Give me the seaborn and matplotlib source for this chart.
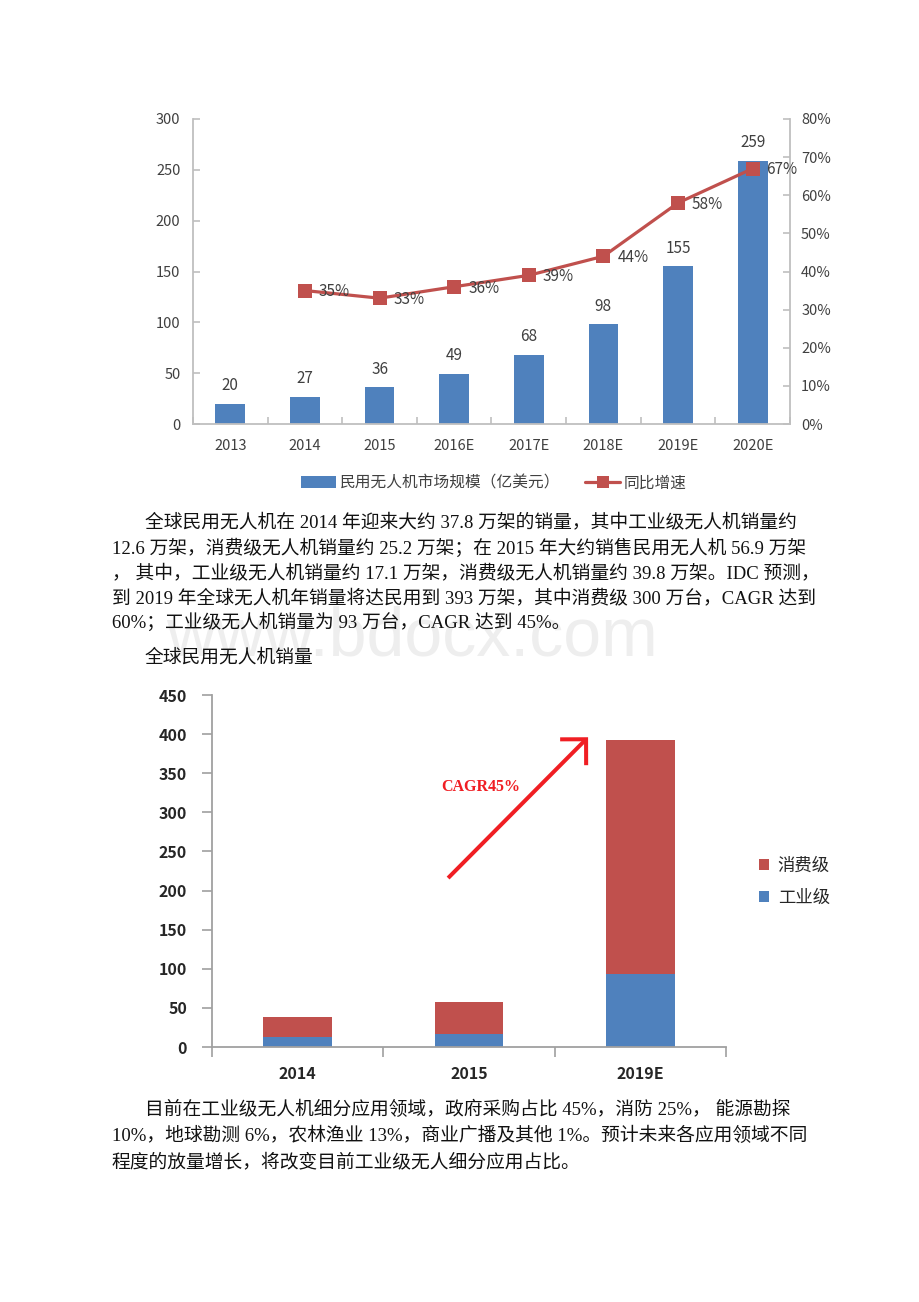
import numpy as np
import pandas as pd
import matplotlib
matplotlib.use("Agg")
import matplotlib.pyplot as plt
import seaborn as sns
from matplotlib.patches import Patch
from matplotlib.lines import Line2D

# ---------------- data ----------------
market_years = ["2013", "2014", "2015", "2016E", "2017E", "2018E", "2019E", "2020E"]
market_size = [20, 27, 36, 49, 68, 98, 155, 259]
growth_years = ["2014", "2015", "2016E", "2017E", "2018E", "2019E", "2020E"]
growth_pct = [35, 33, 36, 39, 44, 58, 67]
left_ticks = [0, 50, 100, 150, 200, 250, 300]
right_ticks = [0, 10, 20, 30, 40, 50, 60, 70, 80]

sales_years = ["2014", "2015", "2019E"]
industrial = [12.6, 17.1, 93]
consumer = [25.2, 39.8, 300]
sales_ticks = [0, 50, 100, 150, 200, 250, 300, 350, 400, 450]

legend_top = ["民用无人机市场规模（亿美元）", "同比增速"]
legend_bottom = ["消费级", "工业级"]
cagr_label = "CAGR45%"

para1 = [
    "全球民用无人机在 2014 年迎来大约 37.8 万架的销量，其中工业级无人机销量约",
    "12.6 万架，消费级无人机销量约 25.2 万架；在 2015 年大约销售民用无人机 56.9 万架",
    "， 其中，工业级无人机销量约 17.1 万架，消费级无人机销量约 39.8 万架。IDC 预测，",
    "到 2019 年全球无人机年销量将达民用到 393 万架，其中消费级 300 万台，CAGR 达到",
    "60%；工业级无人机销量为 93 万台，CAGR 达到 45%。",
]
caption2 = "全球民用无人机销量"
para2 = [
    "目前在工业级无人机细分应用领域，政府采购占比 45%，消防 25%， 能源勘探",
    "10%，地球勘测 6%，农林渔业 13%，商业广播及其他 1%。预计未来各应用领域不同",
    "程度的放量增长，将改变目前工业级无人细分应用占比。",
]

BLUE = "#4F81BD"
RED = "#C0504D"
ARROW_RED = "#F01E23"
GRID_GRAY = "#BFBFBF"
TXT = "#404040"

sns.set_theme(style="white")
plt.rcParams["font.family"] = ["Noto Sans CJK SC", "DejaVu Sans"]
SERIF = ["Liberation Serif", "Noto Sans CJK SC"]

W, H = 920, 1302
fig = plt.figure(figsize=(W / 100, H / 100), dpi=100)
fig.patch.set_facecolor("white")


def fx(px):
    return px / W


def fy(py):
    return 1 - py / H


# watermark (very light, behind the text)
fig.text(fx(166), fy(656), "www.bdocx.com", fontsize=49, color="#EEEEEE",
         family="Liberation Sans", ha="left", va="baseline", zorder=0)

# ---------------- top chart ----------------
ax1 = fig.add_axes([fx(193), fy(424), fx(790) - fx(193), fy(119) - fy(424)])
df1 = pd.DataFrame({"year": market_years, "size": market_size})
sns.barplot(data=df1, x="year", y="size", color=BLUE, width=0.40,
            saturation=1, linewidth=0, ax=ax1)
ax1.bar_label(ax1.containers[0], labels=[str(v) for v in market_size],
              padding=7, fontsize=11, color=TXT)

ax2 = ax1.twinx()
df2 = pd.DataFrame({"year": growth_years, "pct": growth_pct})
df2["pos"] = [market_years.index(y) for y in growth_years]
sns.lineplot(data=df2, x="pos", y="pct", ax=ax2, color=RED, linewidth=2.3,
             marker="s", markersize=9.5, markeredgewidth=0, markerfacecolor=RED)
for p, v in zip(df2["pos"], df2["pct"]):
    ax2.annotate(f"{v}%", (p, v), xytext=(10, -1), textcoords="offset points",
                 ha="left", va="center", fontsize=11, color=TXT)

ax1.set_xlim(-0.5, len(market_years) - 0.5)
ax1.set_ylim(0, 300)
ax1.set_yticks(left_ticks)
ax2.set_ylim(0, 80)
ax2.set_yticks(right_ticks)
ax2.set_yticklabels([f"{t}%" for t in right_ticks])
for a in (ax1, ax2):
    a.set_xlabel("")
    a.set_ylabel("")

for s in ["top", "right"]:
    ax1.spines[s].set_visible(False)
for s in ["left", "bottom"]:
    ax1.spines[s].set_color(GRID_GRAY)
    ax1.spines[s].set_linewidth(1.3)
for s in ["top", "left", "bottom"]:
    ax2.spines[s].set_visible(False)
ax2.spines["right"].set_color(GRID_GRAY)
ax2.spines["right"].set_linewidth(1.3)

ax1.tick_params(axis="y", left=True, direction="in", length=5, width=1.2,
                color=GRID_GRAY, labelsize=10.5, labelcolor=TXT, pad=9)
ax1.tick_params(axis="x", which="major", bottom=False, length=0, pad=11,
                labelsize=10.5, labelcolor=TXT)
ax1.set_xticks(np.arange(-0.5, len(market_years), 1.0), minor=True)
ax1.tick_params(axis="x", which="minor", bottom=True, direction="in",
                length=5, width=1.2, color=GRID_GRAY)
ax2.tick_params(axis="y", right=True, direction="in", length=5, width=1.2,
                color=GRID_GRAY, labelsize=10.5, labelcolor=TXT, pad=8)

h_top = [Patch(facecolor=BLUE, edgecolor="none", label=legend_top[0]),
         Line2D([0], [0], color=RED, lw=2.3, marker="s", markersize=8,
                markeredgewidth=0, label=legend_top[1])]
leg1 = fig.legend(handles=h_top, loc="center", bbox_to_anchor=(fx(494), fy(483)),
                  ncol=2, frameon=False, fontsize=11.3, handlelength=2.2,
                  handleheight=0.75, handletextpad=0.25, columnspacing=1.6)
for t in leg1.get_texts():
    t.set_color(TXT)

# ---------------- paragraphs ----------------
line_y1 = [522, 548, 573, 598, 622]
for i, (line, y) in enumerate(zip(para1, line_y1)):
    fig.text(fx(145 if i == 0 else 112), fy(y), line, family=SERIF,
             fontsize=13.5, color="#111111", ha="left", va="center", zorder=3)
fig.text(fx(145), fy(658), caption2, family=SERIF, fontsize=13.5,
         color="#111111", ha="left", va="center", zorder=3)

line_y2 = [1110, 1136, 1162]
for i, (line, y) in enumerate(zip(para2, line_y2)):
    fig.text(fx(145 if i == 0 else 112), fy(y), line, family=SERIF,
             fontsize=13.5, color="#111111", ha="left", va="center", zorder=3)

# ---------------- bottom chart ----------------
ax3 = fig.add_axes([fx(212), fy(1047), fx(726) - fx(212), fy(695) - fy(1047)])
df3 = pd.DataFrame({"year": sales_years, "industrial": industrial,
                    "consumer": consumer})
df3["total"] = df3["industrial"] + df3["consumer"]
sns.barplot(data=df3, x="year", y="total", color=RED, width=0.40,
            saturation=1, linewidth=0, ax=ax3)
sns.barplot(data=df3, x="year", y="industrial", color=BLUE, width=0.40,
            saturation=1, linewidth=0, ax=ax3)
ax3.set_xlim(-0.5, len(sales_years) - 0.5)
ax3.set_ylim(0, 450)
ax3.set_yticks(sales_ticks)
ax3.set_xlabel("")
ax3.set_ylabel("")
for s in ["top", "right"]:
    ax3.spines[s].set_visible(False)
for s in ["left", "bottom"]:
    ax3.spines[s].set_color("#A0A0A0")
    ax3.spines[s].set_linewidth(1.3)
ax3.tick_params(axis="y", left=True, direction="out", length=7, width=1.2,
                color="#A0A0A0", labelsize=11.5, labelcolor="#262626", pad=11)
ax3.tick_params(axis="x", which="major", bottom=False, length=0, pad=14,
                labelsize=11.5, labelcolor="#262626")
ax3.set_xticks(np.arange(-0.5, len(sales_years), 1.0), minor=True)
ax3.tick_params(axis="x", which="minor", bottom=True, direction="out",
                length=7, width=1.2, color="#A0A0A0")
for lab in ax3.get_xticklabels() + ax3.get_yticklabels():
    lab.set_fontweight("bold")

# CAGR arrow annotation
ax3.annotate("", xy=(1.695, 396), xytext=(0.878, 216),
             arrowprops=dict(arrowstyle="->,head_length=0.66,head_width=0.66",
                             color=ARROW_RED, lw=2.9, mutation_scale=20,
                             shrinkA=0, shrinkB=0, joinstyle="miter",
                             capstyle="butt"))
ax3.text(1.07, 332, cagr_label, family="Liberation Serif", fontweight="bold",
         fontsize=11.5, color=ARROW_RED, ha="center", va="center")

h_bot = [Patch(facecolor=RED, edgecolor="none", label=legend_bottom[0]),
         Patch(facecolor=BLUE, edgecolor="none", label=legend_bottom[1])]
leg2 = fig.legend(handles=h_bot, loc="center left",
                  bbox_to_anchor=(fx(743), fy(882)), frameon=False,
                  fontsize=12.5, handlelength=0.6, handleheight=0.6,
                  handletextpad=0.5, labelspacing=0.8)
for t in leg2.get_texts():
    t.set_color("#262626")

fig.savefig("out.png", dpi=100, facecolor="white")
